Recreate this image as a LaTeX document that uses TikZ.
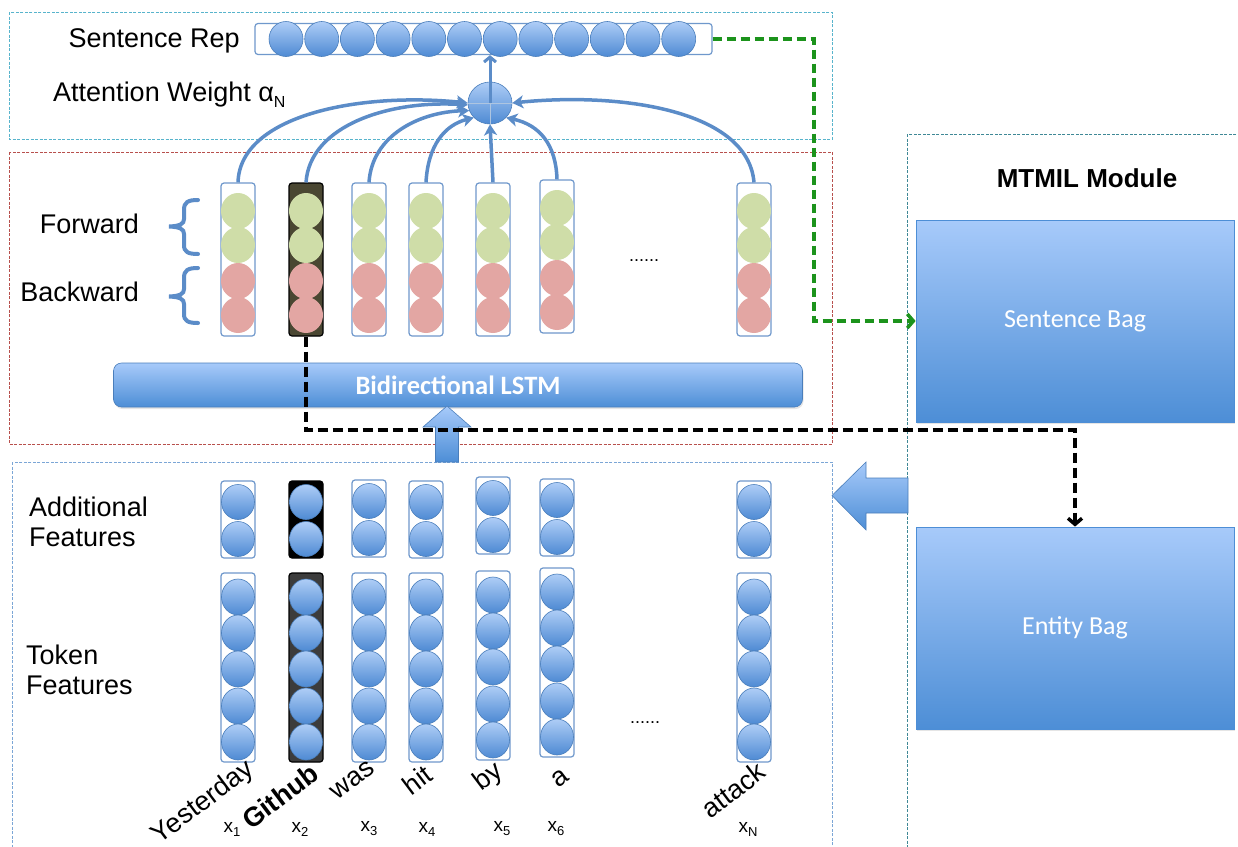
\documentclass[tikz,border=0pt]{standalone}
\usepackage{fontspec}
\setmainfont{Liberation Sans}
\newfontfamily\calib{Carlito}
\usetikzlibrary{shapes.geometric,arrows.meta,shadows}
\definecolor{lineblue}{HTML}{5B8CC8}
\definecolor{circtop}{HTML}{AECDF6}
\definecolor{circbot}{HTML}{4E8AD3}
\definecolor{circedge}{HTML}{4A7EBB}
\definecolor{fgreen}{HTML}{CFDDA8}
\definecolor{bpink}{HTML}{E3A6A3}
\definecolor{coledge}{HTML}{6F98CC}
\definecolor{boxtop}{HTML}{A7CAFA}
\definecolor{boxbot}{HTML}{4D8ED6}
\definecolor{cyanb}{HTML}{58B4CC}
\definecolor{redb}{HTML}{B8504D}
\definecolor{blueb}{HTML}{7BA6D6}
\definecolor{tealb}{HTML}{3F8896}
\definecolor{dgreen}{HTML}{1C931C}
\definecolor{olivec}{HTML}{4A4732}
\definecolor{dgray}{HTML}{3C3C3C}
\begin{document}
\begin{tikzpicture}[x=1pt,y=-1pt,
  frame/.style={line width=1pt, dash pattern=on 3pt off 1.5pt},
  col/.style={draw=coledge, line width=1.2pt, rounded corners=3pt, inner sep=0pt},
  bc/.style={ellipse, minimum width=33pt, minimum height=35pt, inner sep=0pt, draw=circedge, line width=0.6pt, top color=circtop, bottom color=circbot},
  gc/.style={ellipse, minimum width=34pt, minimum height=36pt, inner sep=0pt, fill=fgreen},
  pc/.style={ellipse, minimum width=34pt, minimum height=36pt, inner sep=0pt, fill=bpink},
  lbl/.style={font=\fontsize{27}{30}\selectfont, inner sep=0pt},
  word/.style={font=\fontsize{27}{28}\selectfont, rotate=37, anchor=east, inner sep=0pt},
  subl/.style={font=\fontsize{19}{20}\selectfont, inner sep=0pt},
  att/.style={draw=lineblue, line width=3.5pt, -{Stealth[length=11pt,width=13pt,inset=3pt]}},
  bag/.style={rectangle, draw=boxbot, line width=0.8pt, top color=boxtop, bottom color=boxbot, text=white, font=\calib\fontsize{26}{28}\selectfont, minimum width=318pt, minimum height=202pt, drop shadow={opacity=0.2, shadow xshift=1pt, shadow yshift=-2pt}},
  barrow/.style={draw=circedge, line width=0.6pt, top color=boxtop, bottom color=boxbot},
  gdash/.style={draw=dgreen, line width=3.5pt, dash pattern=on 9pt off 5pt, -{Straight Barb[length=6pt,width=14pt]}},
  kdash/.style={draw=black, line width=3.5pt, dash pattern=on 10pt off 5pt, -{Straight Barb[length=6pt,width=14pt]}},
  brace/.style={draw=lineblue, line width=4pt, line cap=round}
]
\useasboundingbox (0,0) rectangle (1238,846);
\fill[white] (0,0) rectangle (1238,846);

% frames
\draw[frame, draw=cyanb] (9,12) rectangle (832,139);
\draw[frame, draw=redb] (9,152) rectangle (832,444);
\draw[frame, draw=blueb] (12,462) rectangle (832,860);
\draw[frame, draw=tealb] (907,134) rectangle (1250,860);

% sentence representation
\node[col, fill=white, minimum width=457pt, minimum height=31pt] (srep) at (483.5,39) {};
\foreach \k in {0,...,11} {
  \node[bc, minimum width=34pt, minimum height=35pt] (s\k) at ({286+35.7*\k},39) {};
}
\node[lbl, anchor=east] (srlab) at (240,41) {Sentence Rep};
\node[lbl, anchor=west] (awlab) at (53,95) {Attention Weight α\raisebox{-6pt}{\fontsize{16}{16}\selectfont N}};

% attention node
\node[bc, minimum width=44pt, minimum height=42pt] (attn) at (490,103) {};
\draw[white!55!circedge, line width=0.8pt] (attn.west) -- (attn.east) (attn.south) -- (attn.center);
\draw[draw=lineblue, line width=3pt, -{Straight Barb[length=5pt,width=12pt]}] (attn.center) -- (attn.center |- srep.south);

% columns
\foreach \i/\x/\dr/\da/\dt/\fr/\er/\fa/\ft in {
  1/238/0/0/0/white/coledge/white/white,
  2/306/0/0/0/olivec/black/black/dgray,
  3/369/0/-1/0/white/coledge/white/white,
  4/426/0/0/0/white/coledge/white/white,
  5/493/0/-4/-2/white/coledge/white/white,
  6/557/-3/-2/-5/white/coledge/white/white,
  7/754/0/0/0/white/coledge/white/white} {
  % LSTM output columns
  \node[col, fill=\fr, draw=\er, minimum width=34pt, minimum height=153pt] (r\i) at (\x,259.5+\dr) {};
  \node[gc] (rg\i a) at (\x,211+\dr) {};
  \node[gc] (rg\i b) at (\x,245+\dr) {};
  \node[pc] (rp\i a) at (\x,281+\dr) {};
  \node[pc] (rp\i b) at (\x,315+\dr) {};
  % additional features
  \node[col, fill=\fa, draw=\er, minimum width=34pt, minimum height=77pt] (a\i) at (\x,519.5+\da) {};
  \node[bc] (a\i a) at (\x,502+\da) {};
  \node[bc] (a\i b) at (\x,539+\da) {};
  % token features
  \node[col, fill=\ft, draw=\er, minimum width=34pt, minimum height=189pt] (t\i) at (\x,667.5+\dt) {};
  \foreach \j/\yy in {1/597,2/633,3/669,4/706,5/742} {
    \node[bc, minimum height=36pt] (t\i c\j) at (\x,\yy+\dt) {};
  }
}

% attention arrows
\draw[att] (r1.north) .. controls (240,115) and (360,92) .. (attn.west);
\draw[att] (r2.north) .. controls (310,125) and (390,100) .. (attn.185);
\draw[att] (r3.north) .. controls (372,135) and (420,112) .. (attn.200);
\draw[att] (r4.north) .. controls (428,145) and (445,125) .. (attn.222);
\draw[att] (r5.north) -- (attn.south);
\draw[att] (r6.north) .. controls (556,145) and (540,125) .. (attn.318);
\draw[att] (r7.north) .. controls (748,110) and (620,92) .. (attn.east);

% braces
\draw[brace] (198,200) .. controls (188,200) and (184,202) .. (184,210) -- (184,219) .. controls (184,224) and (180,226) .. (169,226.5) .. controls (180,227) and (184,229) .. (184,234) -- (184,245) .. controls (184,252) and (188,254) .. (198,254);
\draw[brace] (198,268) .. controls (188,268) and (184,270) .. (184,278) -- (184,289) .. controls (184,294) and (180,296) .. (169,296.5) .. controls (180,297) and (184,299) .. (184,304) -- (184,314) .. controls (184,321) and (188,323) .. (198,323);
\node[lbl, anchor=east] (fwd) at (139,224) {Forward};
\node[lbl, anchor=east] (bwd) at (139,292) {Backward};
\node[font=\fontsize{18}{20}\selectfont, inner sep=0pt] (dots1) at (644,261) {......};

% BiLSTM bar
\node[rectangle, rounded corners=8pt, draw=circedge, line width=0.6pt, top color=boxtop, bottom color=boxbot, minimum width=689pt, minimum height=44pt, text=white, font=\calib\bfseries\fontsize{26.5}{28}\selectfont, drop shadow={opacity=0.2, shadow xshift=1pt, shadow yshift=-2pt}] (lstm) at (458,385) {Bidirectional LSTM};

% up block arrow
\draw[barrow] (435.5,462) -- (435.5,427) -- (423,427) -- (447,406) -- (471,427) -- (458.5,427) -- (458.5,462) -- cycle;

% bottom labels
\node[lbl, anchor=west, align=left] (addlab) at (29,522) {Additional\\Features};
\node[lbl, anchor=west, align=left] (toklab) at (26,670) {Token\\Features};
\node[font=\fontsize{18}{20}\selectfont, inner sep=0pt] (dots2) at (645,723) {......};

% words
\node[word] (w1) at (251,767) {Yesterday};
\node[word, font=\bfseries\fontsize{27}{28}\selectfont] (w2) at (315,770) {Github};
\node[word] (w3) at (372,766) {was};
\node[word] (w4) at (429,771) {hit};
\node[word] (w5) at (500,769) {by};
\node[word] (w6) at (566,774) {a};
\node[word] (w7) at (762,768) {attack};

\node[subl] (x1) at (232,829) {x\raisebox{-4pt}{\fontsize{13}{13}\selectfont 1}};
\node[subl] (x2) at (300,829) {x\raisebox{-4pt}{\fontsize{13}{13}\selectfont 2}};
\node[subl] (x3) at (369,829) {x\raisebox{-4pt}{\fontsize{13}{13}\selectfont 3}};
\node[subl] (x4) at (427,829) {x\raisebox{-4pt}{\fontsize{13}{13}\selectfont 4}};
\node[subl] (x5) at (502,829) {x\raisebox{-4pt}{\fontsize{13}{13}\selectfont 5}};
\node[subl] (x6) at (556,829) {x\raisebox{-4pt}{\fontsize{13}{13}\selectfont 6}};
\node[subl] (xn) at (748,829) {x\raisebox{-4pt}{\fontsize{13}{13}\selectfont N}};

% MTMIL module
\node[font=\bfseries\fontsize{26}{28}\selectfont, inner sep=0pt] (mtmil) at (1087,178) {MTMIL Module};
\node[bag] (sbag) at (1075,321) {\raisebox{-6pt}{Sentence Bag}};
\node[bag] (ebag) at (1075,628) {\raisebox{-6pt}{Entity Bag}};

% left block arrow
\draw[barrow] (908,478) -- (866,478) -- (866,462) -- (832,495.5) -- (866,530) -- (866,513) -- (908,513) -- cycle;

% dashed connectors
\coordinate (gx) at (814,0);
\coordinate (ky) at (0,430);
\draw[gdash] (srep.east) -- (srep.east -| gx) -- (gx |- sbag.west) -- (sbag.west);
\draw[kdash] (r2.south) -- (r2.south |- ky) -- (ebag.north |- ky) -- (ebag.north);
\end{tikzpicture}
\end{document}
